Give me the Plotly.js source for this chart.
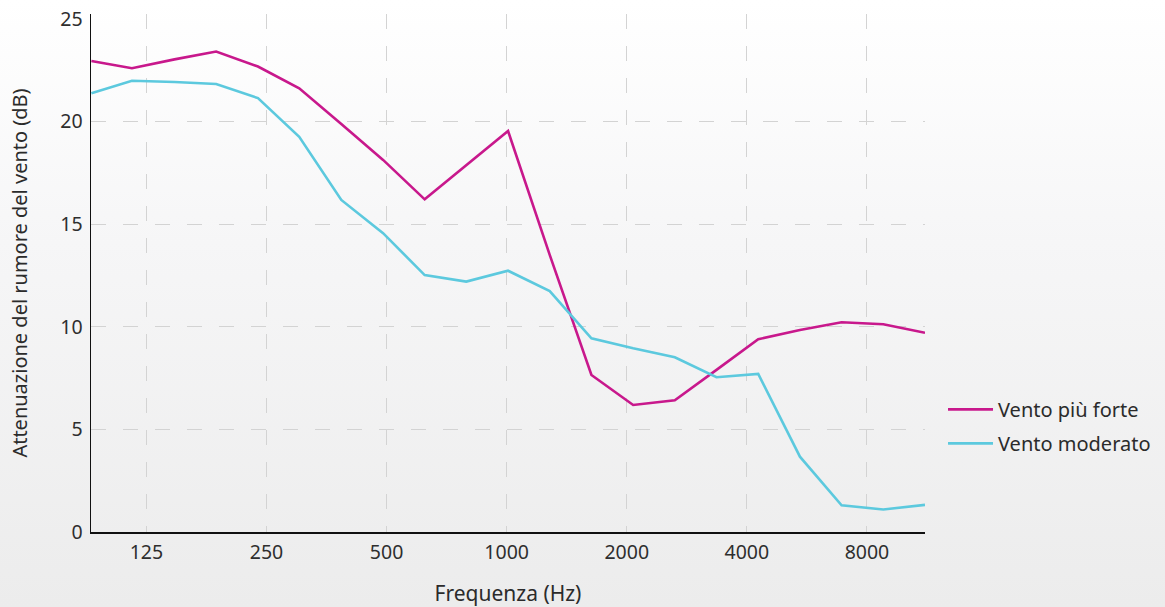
<!DOCTYPE html>
<html>
<head>
<meta charset="utf-8">
<script src="https://cdn.plot.ly/plotly-3.0.1.min.js"></script>
<style>
html, body { margin:0; padding:0; }
body { width:1165px; height:607px; background: linear-gradient(to bottom, #ffffff 0%, #f6f6f7 40%, #ececec 100%); }
#chart { width:1165px; height:607px; }
</style>
</head>
<body>
<div id="chart"></div>
<script>
// Frequency of each measured point (Hz)
const freqs = [91, 115, 147, 187, 238, 302, 385, 490, 623, 792, 1008, 1282, 1631, 2075, 2639, 3357, 4271, 5433, 6910, 8791, 11183];
const forte = [22.95, 22.6, 23.03, 23.41, 22.68, 21.62, 19.88, 18.13, 16.21, 17.88, 19.54, 13.5, 7.65, 6.19, 6.42, 7.9, 9.39, 9.84, 10.22, 10.12, 9.71];
const moderato = [21.38, 21.99, 21.93, 21.83, 21.14, 19.26, 16.18, 14.56, 12.52, 12.2, 12.73, 11.74, 9.44, 8.95, 8.51, 7.54, 7.7, 3.67, 1.3, 1.1, 1.32];
const xTicks = [125, 250, 500, 1000, 2000, 4000, 8000];
const xTickText = ['125', '250', '500', '1000', '2000', '4000', '8000'];
const yTicks = [0, 5, 10, 15, 20, 25];
const yGrid = [5, 10, 15, 20];
const seriesNames = ['Vento più forte', 'Vento moderato'];

const FAM = 'Noto Sans, sans-serif';
const yRange = [0, 25.24];

const data = [
  // invisible helper so the grid-only overlay axis is drawn
  {x: [xTicks[0]], y: [null], yaxis: 'y2', type: 'scatter', mode: 'lines', showlegend: false, hoverinfo: 'skip'},
  {x: freqs, y: forte, name: seriesNames[0], type: 'scatter', mode: 'lines', legendgroup: 'a',
   line: {color: '#c8188c', width: 2.6}},
  {x: freqs, y: moderato, name: seriesNames[1], type: 'scatter', mode: 'lines', legendgroup: 'b',
   line: {color: '#5cc9de', width: 2.6}}
];

const layout = {
  width: 1165, height: 607,
  margin: {l: 91, r: 240, t: 14, b: 75, autoexpand: false},
  paper_bgcolor: 'rgba(0,0,0,0)',
  plot_bgcolor: 'rgba(0,0,0,0)',
  font: {family: FAM, size: 19.5, color: '#2e2e2e'},
  showlegend: true,
  legend: {x: 1.0216, xanchor: 'left', y: 0.204, yanchor: 'middle',
           font: {family: FAM, size: 20, color: '#2b2b2b'},
           bgcolor: 'rgba(0,0,0,0)', tracegroupgap: 5, itemwidth: 45},
  xaxis: {
    type: 'log',
    range: [Math.log10(90.8), Math.log10(11183)],
    tickvals: xTicks, ticktext: xTickText,
    showgrid: true, gridcolor: '#d3d3d3', gridwidth: 1, griddash: '15px,17px',
    showline: true, linecolor: '#111111', linewidth: 1.5,
    ticks: '', ticklabelstandoff: 2,
    zeroline: false,
    title: {text: 'Frequenza (Hz)', font: {family: FAM, size: 21, color: '#2b2b2b'}, standoff: 27}
  },
  yaxis: {
    range: yRange,
    tickvals: yTicks,
    showgrid: false,
    showline: true, linecolor: '#111111', linewidth: 1.5,
    ticks: '', zeroline: false, ticklabelstandoff: 3,
    title: {text: 'Attenuazione del rumore del vento (dB)', font: {family: FAM, size: 20, color: '#2b2b2b'}, standoff: 27}
  },
  yaxis2: {
    overlaying: 'y', range: yRange, tickvals: yGrid,
    showticklabels: false, ticks: '', showline: false, zeroline: false,
    showgrid: true, gridcolor: '#d3d3d3', gridwidth: 1, griddash: '15px,17px'
  }
};

Plotly.newPlot('chart', data, layout, {displayModeBar: false, staticPlot: true});
</script>
</body>
</html>
